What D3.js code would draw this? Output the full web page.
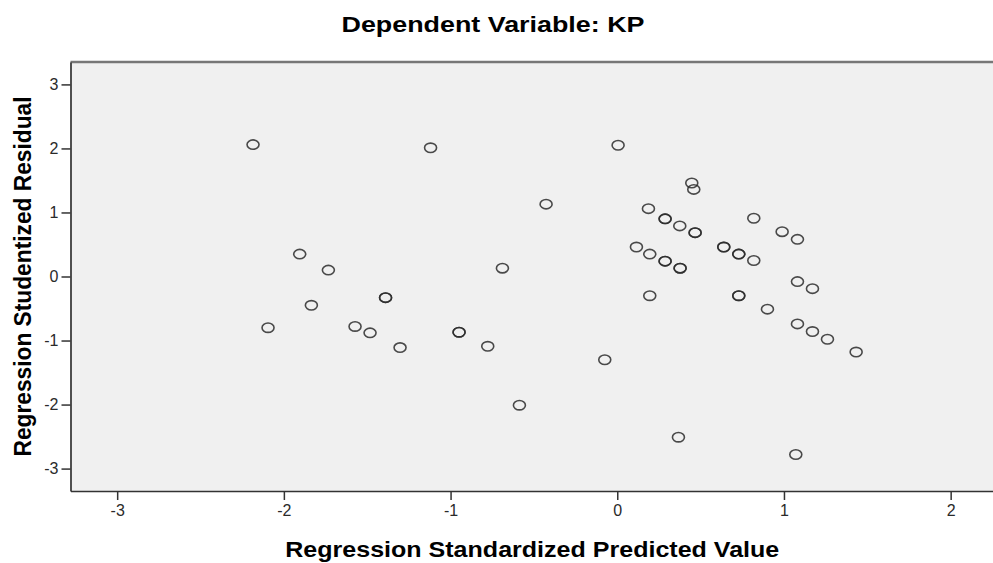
<!DOCTYPE html>
<html>
<head>
<meta charset="utf-8">
<script src="https://cdn.jsdelivr.net/npm/d3@7"></script>
<style>
  body { margin: 0; background: #fff; }
  svg { display: block; font-family: Arial, "Liberation Sans", sans-serif; }
</style>
</head>
<body>
<script>
// Scatterplot data
var predicted = [-2.185, -1.12, -0.427, -1.905, -1.733, -0.689, -1.39, -1.39, -1.835, -2.095,
  -1.573, -1.483, -1.303, -0.949, -0.949, -0.777, -0.587, -0.075, 0.005, 0.447,
  0.459, 0.187, 0.287, 0.287, 0.375, 0.467, 0.467, 0.819, 0.989, 1.081,
  0.115, 0.195, 0.287, 0.287, 0.377, 0.377, 0.639, 0.639, 0.729, 0.729,
  0.819, 1.081, 1.171, 0.195, 0.729, 0.729, 0.901, 1.081, 1.171, 1.261,
  1.433, 0.367, 1.071];
var residual = [2.06, 2.01, 1.13, 0.35, 0.10, 0.13, -0.33, -0.33, -0.45, -0.80,
  -0.78, -0.88, -1.11, -0.87, -0.87, -1.09, -2.01, -1.30, 2.05, 1.46,
  1.36, 1.06, 0.90, 0.90, 0.79, 0.685, 0.685, 0.91, 0.70, 0.58,
  0.46, 0.35, 0.24, 0.24, 0.13, 0.13, 0.46, 0.46, 0.35, 0.35,
  0.25, -0.08, -0.19, -0.30, -0.30, -0.30, -0.51, -0.74, -0.86, -0.98,
  -1.18, -2.51, -2.78];
var xTicks = [-3, -2, -1, 0, 1, 2];
var yTicks = [-3, -2, -1, 0, 1, 2, 3];

var titleText = "Dependent Variable: KP";
var xLabel = "Regression Standardized Predicted Value";
var yLabel = "Regression Studentized Residual";

var width = 993, height = 563;
var plot = {left: 70.5, right: 994, top: 62, bottom: 491};

var svg = d3.select("body").append("svg")
    .attr("width", width)
    .attr("height", height);

// scales
var x = d3.scaleLinear()
    .domain([-3.28, 2.26])
    .range([plot.left, plot.right]);
var y = d3.scaleLinear()
    .domain([-3.35, 3.35])
    .range([plot.bottom, plot.top]);

// plot background
svg.append("rect")
    .attr("x", plot.left)
    .attr("y", plot.top)
    .attr("width", plot.right - plot.left)
    .attr("height", plot.bottom - plot.top)
    .attr("fill", "#f0f0f0");

// top frame line (grey, thicker)
svg.append("line")
    .attr("x1", plot.left).attr("x2", plot.right)
    .attr("y1", plot.top).attr("y2", plot.top)
    .attr("stroke", "#777")
    .attr("stroke-width", 2.4);

// y axis
var yAxis = svg.append("g")
    .attr("transform", "translate(" + plot.left + ",0)")
    .call(d3.axisLeft(y).tickValues(yTicks).tickSize(9).tickSizeOuter(0).tickPadding(3).tickFormat(d3.format("d")));

// x axis
var xAxis = svg.append("g")
    .attr("transform", "translate(0," + plot.bottom + ")")
    .call(d3.axisBottom(x).tickValues(xTicks).tickSize(9).tickSizeOuter(0).tickPadding(5).tickFormat(d3.format("d")));

[xAxis, yAxis].forEach(function(ax) {
    ax.select(".domain").attr("stroke", "#333").attr("stroke-width", 1.7);
    ax.selectAll(".tick line").attr("stroke", "#333").attr("stroke-width", 1.5);
    ax.selectAll(".tick text")
        .attr("fill", "#2a2a2a")
        .style("font-size", "16px")
        .style("font-family", "Arial, 'Liberation Sans', sans-serif");
});
// D3 uses a minus sign; the picture uses a hyphen
xAxis.selectAll(".tick text").text(function(d) { return String(d); });
yAxis.selectAll(".tick text").text(function(d) { return String(d); });

// points (open ellipses, stretched like the picture)
var points = predicted.map(function(p, i) { return {x: p, y: residual[i]}; });
svg.append("g")
    .selectAll("ellipse")
    .data(points)
    .enter()
    .append("ellipse")
        .attr("cx", function(d) { return x(d.x); })
        .attr("cy", function(d) { return y(d.y); })
        .attr("rx", 6)
        .attr("ry", 4.7)
        .attr("fill", "none")
        .attr("stroke", "#2b2b2b")
        .attr("stroke-opacity", 0.85)
        .attr("stroke-width", 1.6);

// chart title
svg.append("text")
    .attr("x", 493)
    .attr("y", 31.5)
    .attr("text-anchor", "middle")
    .attr("textLength", 303)
    .attr("lengthAdjust", "spacingAndGlyphs")
    .style("font-size", "22px")
    .style("font-weight", "bold")
    .attr("fill", "#000")
    .text(titleText);

// x axis title
svg.append("text")
    .attr("x", (plot.left + plot.right) / 2)
    .attr("y", 556.5)
    .attr("text-anchor", "middle")
    .attr("textLength", 494)
    .attr("lengthAdjust", "spacingAndGlyphs")
    .style("font-size", "22px")
    .style("font-weight", "bold")
    .attr("fill", "#000")
    .text(xLabel);

// y axis title
svg.append("text")
    .attr("transform", "translate(31," + ((plot.top + plot.bottom) / 2) + ") scale(1.15,1) rotate(-90)")
    .attr("text-anchor", "middle")
    .attr("textLength", 360)
    .attr("lengthAdjust", "spacingAndGlyphs")
    .style("font-size", "21px")
    .style("font-weight", "bold")
    .attr("fill", "#000")
    .text(yLabel);
</script>
</body>
</html>
